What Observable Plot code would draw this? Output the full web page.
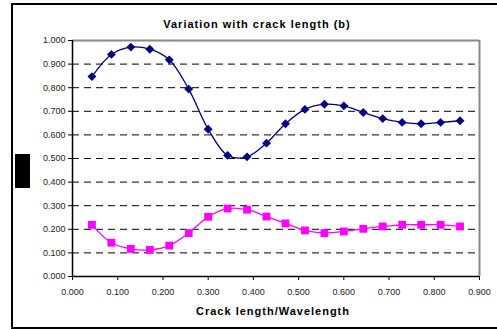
<!DOCTYPE html>
<html>
<head>
<meta charset="utf-8">
<script src="https://cdn.jsdelivr.net/npm/d3@7"></script>
<script src="https://cdn.jsdelivr.net/npm/@observablehq/plot@0.6"></script>
<style>
  html, body { margin: 0; padding: 0; background: #fff; }
  #wrap { position: relative; width: 497px; height: 329px; overflow: hidden; font-family: "Liberation Sans", Arial, sans-serif; }
  #frame { position: absolute; left: 11px; top: 3px; width: 500px; height: 322px; border-left: 2px solid #000; border-top: 2px solid #000; border-bottom: 2px solid #000; pointer-events: none; }
  #key { position: absolute; left: 15px; top: 154px; width: 15px; height: 34px; background: #000; }
  #wrap svg { position: absolute; left: 0; top: 0; }
</style>
</head>
<body>
<div id="wrap"></div>
<script>
// Crack length / wavelength ratios along the x axis
const crackRatio = [0.043, 0.086, 0.129, 0.171, 0.214, 0.257, 0.300, 0.343, 0.386, 0.429,
                    0.471, 0.514, 0.557, 0.600, 0.643, 0.686, 0.729, 0.771, 0.814, 0.857];
// Upper series (navy diamonds)
const upperSeries = [0.847, 0.941, 0.972, 0.963, 0.918, 0.794, 0.624, 0.513, 0.507, 0.565,
                     0.647, 0.708, 0.730, 0.723, 0.695, 0.669, 0.653, 0.647, 0.653, 0.660];
// Lower series (magenta squares)
const lowerSeries = [0.219, 0.143, 0.117, 0.113, 0.131, 0.184, 0.253, 0.288, 0.283, 0.254,
                     0.225, 0.195, 0.184, 0.191, 0.202, 0.212, 0.219, 0.219, 0.219, 0.212];
// Axis ticks
const xTicks = [0, 0.1, 0.2, 0.3, 0.4, 0.5, 0.6, 0.7, 0.8, 0.9];
const yTicks = [0, 0.1, 0.2, 0.3, 0.4, 0.5, 0.6, 0.7, 0.8, 0.9, 1.0];
const gridTicks = [0.1, 0.2, 0.3, 0.4, 0.5, 0.6, 0.7, 0.8, 0.9];
const chartTitle = "Variation with crack length (b)";
const xTitle = "Crack length/Wavelength";

const upper = crackRatio.map((x, i) => ({x, y: upperSeries[i]}));
const lower = crackRatio.map((x, i) => ({x, y: lowerSeries[i]}));
const fmt = d3.format(".3f");

const chart = Plot.plot({
  width: 497,
  height: 329,
  marginLeft: 72,
  marginRight: 18,
  marginTop: 40,
  marginBottom: 53,
  style: {fontFamily: "'Liberation Sans', Arial, sans-serif", fontSize: "9px", color: "#222", background: "transparent"},
  x: {domain: [0, 0.9]},
  y: {domain: [0, 1]},
  marks: [
    Plot.ruleY(gridTicks, {stroke: "#000", strokeWidth: 1, strokeDasharray: "7,5"}),
    Plot.ruleY([1], {stroke: "#888", strokeWidth: 2}),
    Plot.ruleX([0.9], {stroke: "#888", strokeWidth: 2}),
    Plot.axisY({ticks: yTicks, tickFormat: fmt, tickSize: 4, tickPadding: 3, label: null, stroke: "#000"}),
    Plot.axisX({ticks: xTicks, tickFormat: fmt, tickSize: 4, tickPadding: 8, label: null, stroke: "#000"}),
    Plot.ruleX([0], {stroke: "#000", strokeWidth: 1.5}),
    Plot.ruleY([0], {stroke: "#000", strokeWidth: 1.5}),
    Plot.line(upper, {x: "x", y: "y", curve: "catmull-rom", stroke: "#000080", strokeWidth: 1.3}),
    Plot.dot(upper, {x: "x", y: "y", symbol: "diamond2", r: 4, fill: "#000080", stroke: "none"}),
    Plot.line(lower, {x: "x", y: "y", curve: "catmull-rom", stroke: "#ff00ff", strokeWidth: 1.3}),
    Plot.dot(lower, {x: "x", y: "y", symbol: "square", r: 4.4, fill: "#ff00ff", stroke: "none"}),
    Plot.text([chartTitle], {frameAnchor: "top", dx: -19, dy: -20, fontSize: 11, fontWeight: "bold", fill: "#000", style: "letter-spacing:1px"}),
    Plot.text([xTitle], {frameAnchor: "bottom", dx: -3, dy: 38, fontSize: 11, fontWeight: "bold", fill: "#000"})
  ]
});

const wrap = document.getElementById("wrap");
wrap.appendChild(chart);
const frame = document.createElement("div"); frame.id = "frame"; wrap.appendChild(frame);
const key = document.createElement("div"); key.id = "key"; wrap.appendChild(key);
chart.querySelectorAll("text").forEach(t => {
  if (t.textContent === chartTitle) t.setAttribute("letter-spacing", "1");
  if (t.textContent === xTitle) t.setAttribute("letter-spacing", "1");
});
</script>
</body>
</html>
